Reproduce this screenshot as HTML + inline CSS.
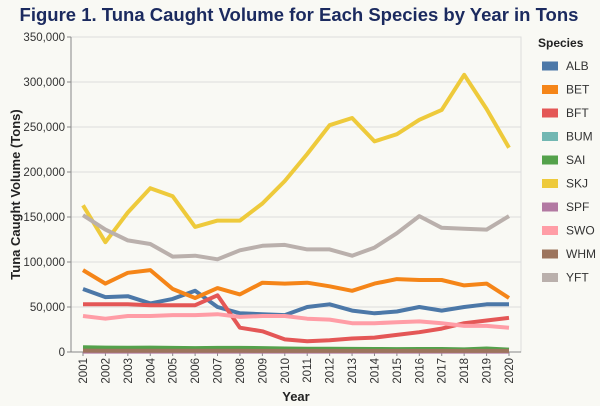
<!DOCTYPE html>
<html><head><meta charset="utf-8"><style>
body{margin:0;background:#f9f9f4;}
svg{display:block;font-family:"Liberation Sans",Arial,sans-serif;}
</style></head><body>
<svg id="chart" width="600" height="406">
<rect width="600" height="406" fill="#f9f9f4"/>
<text x="299" y="21" text-anchor="middle" font-size="18.5" font-weight="bold" fill="#1b2a5f">Figure 1. Tuna Caught Volume for Each Species by Year in Tons</text>
<g id="grid"></g><g id="axes"></g><g id="lines"></g><g id="legend"></g>
</svg>
<script>
const years=[2001,2002,2003,2004,2005,2006,2007,2008,2009,2010,2011,2012,2013,2014,2015,2016,2017,2018,2019,2020];
const species=["ALB","BET","BFT","BUM","SAI","SKJ","SPF","SWO","WHM","YFT"];
const colors=["#4c78a8","#f58518","#e45756","#72b7b2","#54a24b","#eeca3b","#b279a2","#ff9da6","#9d755d","#bab0ac"];
const ALB=[70000,61000,62000,54000,59000,68000,50000,43000,42000,41000,50000,53000,46000,43000,45000,50000,46000,50000,53000,53000];
const BET=[91000,76000,88000,91000,70000,60000,71000,64000,77000,76000,77000,73000,68000,76000,81000,80000,80000,74000,76000,60000];
const BFT=[53000,53000,53000,52000,52000,52000,63000,27000,23000,14000,12000,13000,15000,16000,19000,22000,26000,32000,35000,38000];
const BUM=[1200,1100,1100,1000,1000,1000,1000,1000,1000,1000,900,900,900,900,900,900,900,900,900,900];
const SAI=[5200,4900,4800,4900,4600,4300,4600,4500,4300,3900,3700,3600,3400,3300,3200,3300,3300,2900,3900,2700];
const SKJ=[163000,122000,155000,182000,173000,139000,146000,146000,165000,190000,220000,252000,260000,234000,242000,258000,269000,308000,270000,227000];
const SPF=[500,500,500,500,500,500,500,500,500,500,500,500,500,500,500,500,500,500,500,500];
const SWO=[40000,37000,40000,40000,41000,41000,42000,39000,40000,40000,37000,36000,32000,32000,33000,34000,32000,29000,29000,27000];
const WHM=[1500,1400,1400,1400,1300,1300,1300,1300,1200,1200,1200,1200,1200,1200,1200,1200,1200,1200,1200,1200];
const YFT=[152000,136000,124000,120000,106000,107000,103000,113000,118000,119000,114000,114000,107000,116000,132000,151000,138000,137000,136000,151000];
const series=[ALB,BET,BFT,BUM,SAI,SKJ,SPF,SWO,WHM,YFT];
const yTicks=[0,50000,100000,150000,200000,250000,300000,350000];
const NS="http://www.w3.org/2000/svg";
const X0=83,X1=509,Y0=352,Y1=37,YMAX=350000,PL=71,PR=521;
const xs=i=>X0+(X1-X0)*i/(years.length-1);
const ys=v=>Y0-(Y0-Y1)*v/YMAX;
function mk(t,a,p){const e=document.createElementNS(NS,t);for(const k in a)e.setAttribute(k,a[k]);p.appendChild(e);return e;}
const grid=document.getElementById('grid'),axes=document.getElementById('axes'),lines=document.getElementById('lines'),legend=document.getElementById('legend');
mk('rect',{x:PL,y:Y1,width:PR-PL,height:Y0-Y1,fill:'none',stroke:'#ddd'},grid);
yTicks.forEach(t=>{
 const g=mk('line',{x1:PL,x2:PR,y1:ys(t),y2:ys(t),stroke:'#ddd'},grid);
 
 
 mk('line',{x1:PL-4,x2:PL,y1:ys(t),y2:ys(t),stroke:'#888'},axes);
 const tx=mk('text',{x:PL-6,y:ys(t)+4,'text-anchor':'end','font-size':'11.5',fill:'#333'},axes);
 tx.textContent=t.toLocaleString('en-US');
 
 
});
mk('line',{x1:PL,x2:PL,y1:Y1,y2:Y0,stroke:'#888'},axes);
mk('line',{x1:PL,x2:PR,y1:Y0,y2:Y0,stroke:'#888'},axes);
years.forEach((y,i)=>{
 mk('line',{x1:xs(i),x2:xs(i),y1:Y0,y2:Y0+4,stroke:'#888'},axes);
 const tx=mk('text',{x:0,y:0,'text-anchor':'end','font-size':'11.5',fill:'#333',transform:`translate(${xs(i)+4},${Y0+6}) rotate(-90)`},axes);
 tx.textContent=y;
 
 
});
const xt=mk('text',{x:296,y:401,'text-anchor':'middle','font-size':'13','font-weight':'bold',fill:'#222'},axes);
xt.textContent='Year';


const yt=mk('text',{x:0,y:0,'text-anchor':'middle','font-size':'13','font-weight':'bold',fill:'#222',transform:`translate(20,${(Y0+Y1)/2}) rotate(-90)`},axes);
yt.textContent='Tuna Caught Volume (Tons)';


series.forEach((arr,s)=>{
 const d=arr.map((v,i)=>(i?'L':'M')+xs(i).toFixed(1)+','+ys(v).toFixed(1)).join('');
 const p=mk('path',{d:d,fill:'none',stroke:colors[s],'stroke-width':4,'stroke-linejoin':'round'},lines);
 
 
});
const lt=mk('text',{x:538,y:47,'font-size':'12','font-weight':'bold',fill:'#222'},legend);
lt.textContent='Species';


species.forEach((n,i)=>{
 const cy=66+i*23.5;
 const g=mk('g',{},legend);
 
 
 mk('rect',{x:542,y:cy-4.5,width:16,height:9,fill:colors[i]},g);
 const t=mk('text',{x:566,y:cy+4,'font-size':'12',fill:'#333'},g);
 t.textContent=n;
});
</script>
</body></html>
